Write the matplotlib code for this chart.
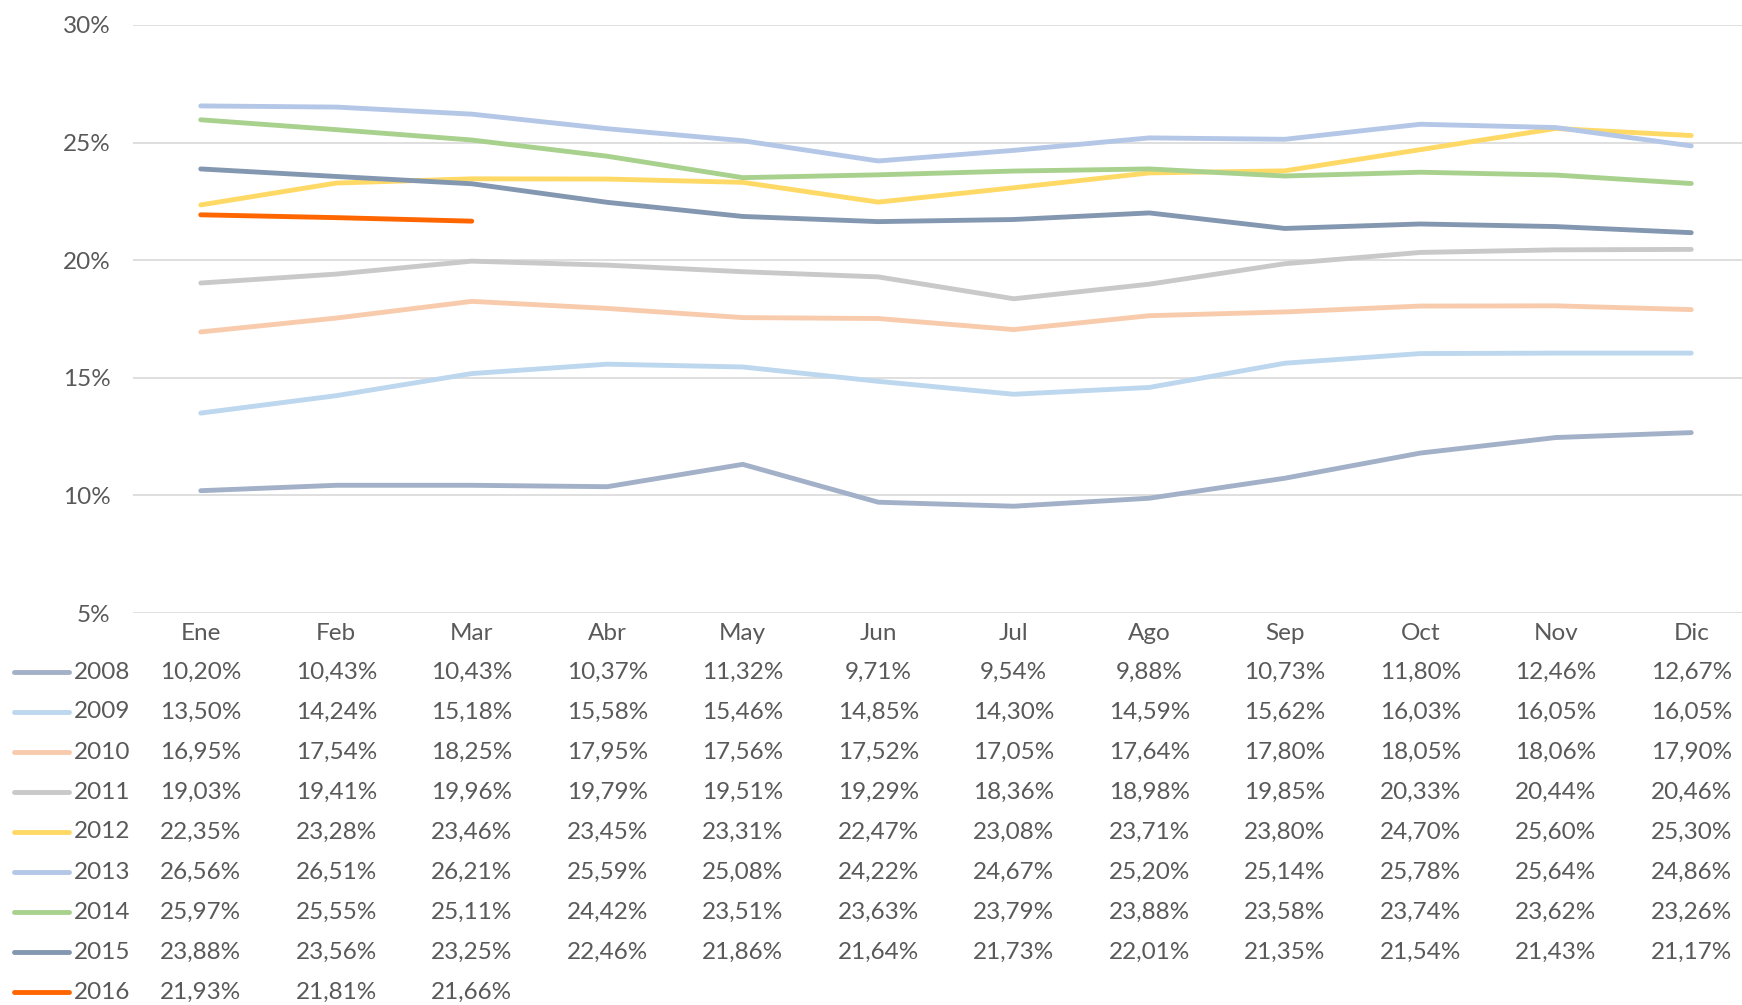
import matplotlib
matplotlib.use("Agg")
import matplotlib.pyplot as plt
from matplotlib.lines import Line2D
import matplotlib.transforms as mtransforms

plt.rcParams['font.family'] = ['Lato', 'DejaVu Sans']

months = ["Ene", "Feb", "Mar", "Abr", "May", "Jun", "Jul", "Ago", "Sep", "Oct", "Nov", "Dic"]
years = ["2008", "2009", "2010", "2011", "2012", "2013", "2014", "2015", "2016"]

v2008 = [10.20, 10.43, 10.43, 10.37, 11.32, 9.71, 9.54, 9.88, 10.73, 11.80, 12.46, 12.67]
v2009 = [13.50, 14.24, 15.18, 15.58, 15.46, 14.85, 14.30, 14.59, 15.62, 16.03, 16.05, 16.05]
v2010 = [16.95, 17.54, 18.25, 17.95, 17.56, 17.52, 17.05, 17.64, 17.80, 18.05, 18.06, 17.90]
v2011 = [19.03, 19.41, 19.96, 19.79, 19.51, 19.29, 18.36, 18.98, 19.85, 20.33, 20.44, 20.46]
v2012 = [22.35, 23.28, 23.46, 23.45, 23.31, 22.47, 23.08, 23.71, 23.80, 24.70, 25.60, 25.30]
v2013 = [26.56, 26.51, 26.21, 25.59, 25.08, 24.22, 24.67, 25.20, 25.14, 25.78, 25.64, 24.86]
v2014 = [25.97, 25.55, 25.11, 24.42, 23.51, 23.63, 23.79, 23.88, 23.58, 23.74, 23.62, 23.26]
v2015 = [23.88, 23.56, 23.25, 22.46, 21.86, 21.64, 21.73, 22.01, 21.35, 21.54, 21.43, 21.17]
v2016 = [21.93, 21.81, 21.66]

series = [v2008, v2009, v2010, v2011, v2012, v2013, v2014, v2015, v2016]
colors = ["#A2B0C8", "#BDD7EE", "#F8CBAD", "#C9C9C9", "#FFD966", "#B4C7E7", "#A9D18E", "#8497B0", "#FF6600"]

W, H = 1742, 1005
fig = plt.figure(figsize=(W / 100, H / 100), dpi=100)
left_px, right_px = 133, 133 + 12 * 135.5
top_px, bot_px = 25, 613
ax = fig.add_axes([left_px / W, 1 - bot_px / H, (right_px - left_px) / W, (bot_px - top_px) / H])

for vals, c in zip(series, colors):
    ax.plot(range(len(vals)), vals, color=c, lw=3.5, solid_capstyle='round', zorder=3)

ax.set_xlim(-0.5, 11.5)
ax.set_ylim(5, 30)
ax.set_yticks([5, 10, 15, 20, 25, 30])
ax.set_yticklabels([f"{t}%" for t in [5, 10, 15, 20, 25, 30]], fontsize=17.5, color="#595959")
ax.tick_params(axis='y', length=0, pad=16)
ax.set_xticks([])
ax.grid(axis='y', color="#D9D9D9", lw=1.2)
ax.set_axisbelow(True)
for s in ax.spines.values():
    s.set_visible(False)

trans = mtransforms.blended_transform_factory(ax.transData, fig.transFigure)
txtc = "#595959"
header_y = 1 - 633 / H
for i, m in enumerate(months):
    ax.text(i, header_y, m, transform=trans, ha='center', va='center', fontsize=17.5, color=txtc)

row0 = 672
for r, (yr, vals, c) in enumerate(zip(years, series, colors)):
    ypx = row0 + r * 40
    yf = 1 - ypx / H
    fig.add_artist(Line2D([14 / W, 69 / W], [yf, yf], transform=fig.transFigure,
                          color=c, lw=3.5, solid_capstyle='round'))
    fig.text(74 / W, yf, yr, ha='left', va='center', fontsize=17.5, color=txtc)
    for i, v in enumerate(vals):
        s = f"{v:.2f}%".replace(".", ",")
        ax.text(i, yf, s, transform=trans, ha='center', va='center', fontsize=17.5, color=txtc,
                clip_on=False)

fig.savefig("out.png", dpi=100)
